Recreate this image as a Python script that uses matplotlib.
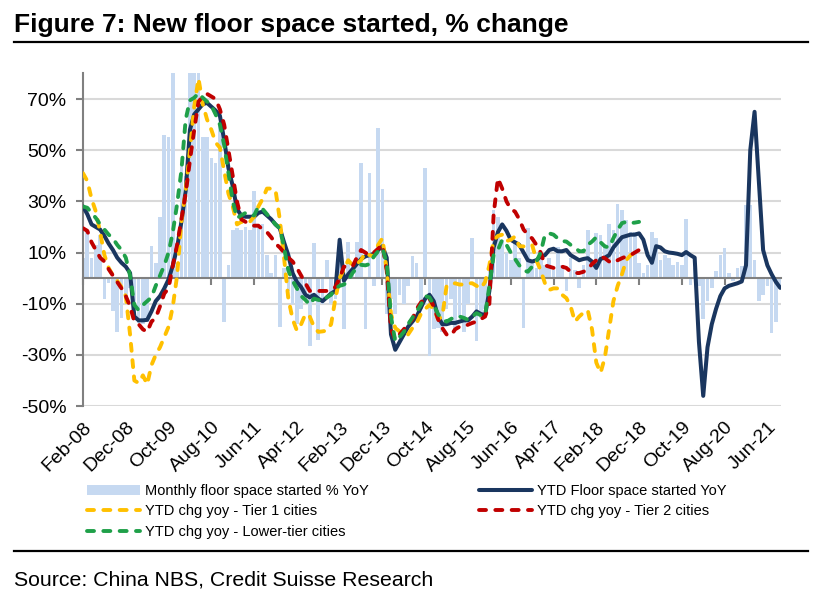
import numpy as np
import matplotlib.pyplot as plt
from matplotlib.lines import Line2D

plt.rcParams['font.family'] = ['Liberation Sans', 'DejaVu Sans']

# monthly data, Feb-08 ... Sep-21
tick_labels = ['Feb-08', 'Dec-08', 'Oct-09', 'Aug-10', 'Jun-11', 'Apr-12', 'Feb-13', 'Dec-13',
               'Oct-14', 'Aug-15', 'Jun-16', 'Apr-17', 'Feb-18', 'Dec-18', 'Oct-19', 'Aug-20', 'Jun-21']

monthly_yoy = [8, 18, 8, 13, 17, -8, -2, -13, -21, -15.5, -8,
               -4, -12, -17.5, -18, -17, 12.4, 6, 24, 56, 55, 80, 6,
               45, 40, 80, 80, 80, 55, 55, 47, 45, 60, -17, 5,
               19, 19.5, 19, 20, 19, 34, 20, 21, 9, 2, 9, -19,
               4, -5, -10, -18, -12, -9, -26.7, 13.7, -24, -10, 7, -10,
               -8, 13, -20, 14, 2, 14, 45, -20, 41, -3, 58.6, 35,
               -14, -8, -14, -6.5, -10, -3, 8.5, 6, -12, 43, -30.6, -20,
               -19.5, -21, -12, -8, -20, -15, -21, -10, 15.6, -24.7, -15.6, -12,
               5, 26.7, 24, 15, 10, 7, 14, 8, -19.5, 19.5, 6, 4,
               10, 5, 8, 3, 12, 5, -5, 8, 3, -4, 5, 19,
               6, 17.6, 17, 13, 21, 19, 29, 26.7, 22.8, 18, 18, 6,
               2, 5, 18, 15.6, 7, 9, 8, 5, 6.5, 5, 23, -2.6,
               4, -3, -16, -9, -4, 2.6, 9, 11.7, 2, -1.3, 3.9, 4.6,
               28.6, 28.6, 7, -9, -6.5, -3, -21.5, -17, -3]

ytd_total = [28, 25, 21, 20, 19, 16.5, 13.5, 11, 8, 6, 4.5,
             2, -15, -16.5, -16.5, -16.3, -13, -9, -7, -4, -0.5, 5, 12,
             22, 34, 58, 64, 66, 68, 68.5, 67, 65.5, 63.5, 54, 43,
             36, 27, 24.5, 24, 24, 24, 25.5, 26, 24.5, 23, 21, 19.5,
             14, 9, 2, -1.5, -3.5, -6.5, -7.5, -6.5, -8, -9, -7.5, -6,
             -5, 15, -1, 1.5, 3.5, 5.5, 7.5, 8.5, 9, 9.5, 11, 12.5,
             8, -22, -28, -25, -22, -19, -17, -15, -11.5, -8, -6.5, -9,
             -15, -18, -18, -17.5, -17.5, -17, -16.5, -16.5, -15, -13, -14, -14.5,
             -5, 12, 18, 21, 18.5, 15, 14, 13, 10, 7, 6.5, 7,
             8.5, 9, 11, 11.5, 10.5, 10.5, 11, 9, 8, 7, 7.5, 7.8,
             6.5, 4, 7.5, 8, 9, 12, 14, 16, 16.5, 17, 17, 17.5,
             15, 9, 6, 12.5, 12, 10.5, 10, 9.8, 9.5, 9, 10.2, 9,
             8, -25, -46, -27, -18, -12, -7, -4, -3, -2.5, -2, -1.3,
             5, 50, 65, 38, 11, 5, 1.5, -1.5, -3.8]

# Feb-08 ... Dec-18
tier1 = [41, 38, 31, 26, 18, 9, 4, 1, -1, -3.5, -7,
         -22, -40, -41, -38, -41.5, -34, -30, -27, -23, -19, -11, 1,
         22, 34, 50, 67, 78, 68, 62, 58, 53, 51, 42, 33,
         28, 21, 22, 21.5, 22, 24, 28, 31, 35, 35, 34.5, 23,
         8, -8, -16, -20.5, -18, -14, -15, -19, -21, -20.8, -20.5, -18,
         -8, 0, 3.5, 7, 5, 5.5, 7, 10, 9, 8.5, 13, 15.6,
         3, -14, -19.5, -20.8, -21.5, -22, -19.5, -17.5, -14, -12, -10.5, -12,
         -16, -15, -3, -2.5, -2, -2.5, -2.5, -2, -2, -3, -4, -1.5,
         5, 15, 16.5, 17, 14.5, 15, 16.3, 12.5, 12.4, 12.5, 13, 7,
         3, -2, -4.6, -4, -4, -6.5, -7.8, -11, -17, -15, -13.5, -12.5,
         -20, -33, -37, -31, -20, -9, -3, 1.5, 7, 9, 9.8, 8.5]

tier2 = [19.5, 18.5, 14, 11, 8, 6.5, 3.5, 1, -1.5, -4, -7,
         -11, -17, -18, -20, -21, -17, -15.5, -11, -6, -4, 5, 13,
         23, 33, 46, 58, 69, 71, 72, 71, 70, 66, 60, 50,
         40, 30, 23, 22, 21, 20.5, 20.5, 19, 18, 16, 13.5, 12,
         10, 8, 6.5, 4, 1, -2, -5, -5, -5, -5, -5, -4.5,
         -3.5, 0, 4.5, 4.5, 4.5, 8, 11, 10, 9, 10, 11.5, 13,
         3, -20, -24, -22, -20, -18, -16, -12, -9.5, -7.8, -8, -11,
         -16, -19.5, -22, -22.5, -20, -19, -19, -18.2, -17.5, -17, -16, -15,
         -10, 25, 39, 35, 30, 27, 26, 23, 19, 17, 15.5, 13,
         10, 5, 4.5, 4, 4.5, 4.5, 4, 2.5, 2, 2, 2.5, 3.5,
         5.5, 7, 8.5, 7.8, 6.5, 6, 7, 7.8, 8.5, 9, 10, 11]

lower_tier = [28, 27.5, 25.5, 23.5, 21, 19, 17, 15.5, 13, 11, 8,
              1, -10.5, -12.5, -10.5, -9, -7.5, -3, 1, 5, 10, 18, 29,
              42, 62, 69.5, 70.5, 72.3, 70.5, 69, 67.5, 64, 60, 52, 41,
              30, 23.5, 24.5, 25.5, 24.5, 24.5, 28, 27, 25, 23, 21, 19.5,
              12, 3, -1, -4, -7, -8.5, -10.4, -8, -8.5, -9, -7.5, -6.5,
              -4, -3, -2.5, -1, 2, 4, 5.2, 5, 5.5, 8.5, 10.5, 11.7,
              6, -15, -24.7, -23, -21, -18, -15.5, -13, -10.4, -7, -7.5, -10.5,
              -14, -16.3, -17, -16, -15, -15, -15.5, -16.3, -15, -13.7, -14.5, -14.5,
              -3, 9, 11, 15, 13, 10, 7.5, 5, 3, 2.5, 4.5, 6.5,
              10, 17, 17.5, 17, 15.5, 14.5, 14.3, 13, 12, 10.5, 10.5, 13,
              14.3, 16, 14, 12.4, 12, 15.6, 18.9, 21.5, 22, 21.5, 21.7, 22]

fig = plt.figure(figsize=(8.36, 6.07), dpi=100)
ax = fig.add_axes([0.0993, 0.331, 0.835, 0.548])

x_all = np.arange(len(ytd_total))
x_tier = np.arange(len(tier1))

bars = ax.bar(np.arange(len(monthly_yoy)), monthly_yoy, width=0.85, color='#c6d9f1',
              linewidth=0, zorder=1, label='Monthly floor space started % YoY')
l_tot, = ax.plot(x_all, ytd_total, color='#1a365f', lw=2.9, solid_capstyle='round',
                 zorder=4, label='YTD Floor space started YoY')
dash = dict(lw=2.8, dashes=(1.8, 2.4), dash_capstyle='round')
l_t1, = ax.plot(x_tier, tier1, color='#ffc000', zorder=5, label='YTD chg yoy - Tier 1 cities', **dash)
l_t2, = ax.plot(x_tier, tier2, color='#c00000', zorder=6, label='YTD chg yoy - Tier 2 cities', **dash)
l_lo, = ax.plot(x_tier, lower_tier, color='#1fa049', zorder=7, label='YTD chg yoy - Lower-tier cities', **dash)

ax.set_xlim(0, 163.2)
ax.set_ylim(-50, 80)
yt = [70, 50, 30, 10, -10, -30, -50]
ax.set_yticks(yt)
ax.set_yticklabels([f'{v}%' for v in yt])
ax.yaxis.grid(True, color='#d9d9d9', lw=1.5)
ax.set_axisbelow(True)

for s in ['top', 'right']:
    ax.spines[s].set_visible(False)
ax.spines['left'].set_color('#808080')
ax.spines['left'].set_linewidth(1.5)
ax.spines['bottom'].set_position(('data', 0))
ax.spines['bottom'].set_color('#808080')
ax.spines['bottom'].set_linewidth(1.5)

xt = np.arange(0, 161, 10)
ax.set_xticks(xt)
ax.tick_params(axis='x', labelbottom=False, length=5, width=1.5, color='#808080')
ax.tick_params(axis='y', length=5, width=1.5, color='#808080', labelsize=14, pad=7)

sec = ax.secondary_xaxis('bottom')
sec.set_xticks(xt)
sec.set_xticklabels(tick_labels, fontsize=14)
sec.tick_params(length=0, pad=9)
sec.spines['bottom'].set_visible(False)
for lab in sec.get_xticklabels():
    lab.set_rotation(45)
    lab.set_ha('right')
    lab.set_rotation_mode('anchor')

handles = [bars, l_t1, l_lo, l_tot, l_t2]
fig.legend(handles, [h.get_label() for h in handles],
           ncol=2, loc='upper left', bbox_to_anchor=(0.0957, 0.215), frameon=False,
           borderpad=0, handlelength=3.6, handletextpad=0.35, labelspacing=0.45,
           columnspacing=7.6, prop={'size': 10.5})

fig.text(14 / 836, 1 - 25 / 607, 'Figure 7: New floor space started, % change',
         fontsize=19, weight='bold', va='center')
fig.add_artist(Line2D([14 / 836, 808 / 836], [1 - 42 / 607] * 2, color='black', lw=1.6))
fig.add_artist(Line2D([14 / 836, 808 / 836], [1 - 551 / 607] * 2, color='black', lw=1.6))
fig.text(14 / 836, 1 - 580 / 607, 'Source: China NBS, Credit Suisse Research', fontsize=15.3, va='center')

fig.savefig('out.png', dpi=100)
